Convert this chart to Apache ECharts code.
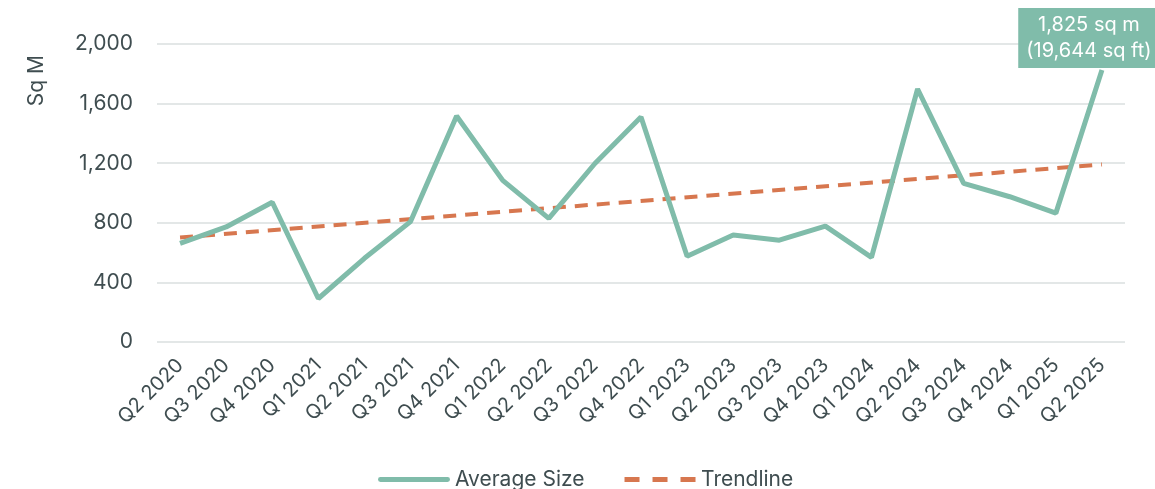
<!DOCTYPE html>
<html>
<head>
<meta charset="utf-8">
<script src="https://cdn.jsdelivr.net/npm/echarts@6/dist/echarts.min.js"></script>
<style>
  html, body { margin: 0; padding: 0; background: #fff; }
  #chart { width: 1155px; height: 489px; }
</style>
</head>
<body>
<div id="chart"></div>
<script>
// 季度类目
const quarters = [
  "Q2 2020", "Q3 2020", "Q4 2020", "Q1 2021", "Q2 2021", "Q3 2021", "Q4 2021",
  "Q1 2022", "Q2 2022", "Q3 2022", "Q4 2022", "Q1 2023", "Q2 2023", "Q3 2023",
  "Q4 2023", "Q1 2024", "Q2 2024", "Q3 2024", "Q4 2024", "Q1 2025", "Q2 2025",
];
// 平均面积（sq m）
const avgSize = [
  662, 772, 938, 292, 562, 808, 1517,
  1085, 830, 1198, 1510, 575, 718, 683,
  778, 568, 1698, 1065, 975, 865, 1825,
];
// 趋势线首尾值
const trendStart = 702;
const trendEnd = 1192;
const yTicks = [0, 400, 800, 1200, 1600, 2000];
const lastLabel = "1,825 sq m\n(19,644 sq ft)";

const TEAL = "#80bcaa";
const ORANGE = "#d7774f";
const TEXT = "#3f4d50";
const GRID = "#e3e7e7";
const FONT = "Inter, 'Open Sans', sans-serif";

// 图例图标：实线 / 三段虚线
const ICON_SOLID = "path://M2,0h68a2,2 0 0 1 0,5h-68a2,2 0 0 1 0,-5z";
const ICON_DASH = "path://M0,0h15v5h-15z M28,0h15v5h-15z M56,0h15v5h-15z";

const trend = quarters.map((_, i) =>
  i === 0 ? trendStart : i === quarters.length - 1 ? trendEnd : null
);
const avgData = avgSize.map((v, i) =>
  i === avgSize.length - 1
    ? {
        value: v,
        label: {
          show: true,
          formatter: lastLabel,
          position: "top",
          distance: 2,
          offset: [-13, 0],
          color: "#fff",
          fontSize: 20,
          lineHeight: 26,
          fontFamily: FONT,
          backgroundColor: TEAL,
          padding: [4, 8, 4, 8],
        },
      }
    : v
);

const chart = echarts.init(document.getElementById("chart"), null, { renderer: "canvas" });
chart.setOption({
  animation: false,
  textStyle: { fontFamily: FONT, color: TEXT },
  grid: { left: 157, right: 30, top: 44, bottom: 147 },
  legend: {
    top: 464,
    left: 373,
    itemWidth: 72,
    itemHeight: 5,
    itemGap: 40,
    textStyle: { fontSize: 21, color: TEXT, fontFamily: FONT },
    data: [
      { name: "Average Size", icon: ICON_SOLID },
      { name: "Trendline", icon: ICON_DASH },
    ],
  },
  graphic: [
    {
      type: "text",
      left: 26,
      top: 55,
      rotation: Math.PI / 2,
      style: { text: "Sq M", fontSize: 21, fill: TEXT, fontFamily: FONT },
    },
  ],
  xAxis: {
    type: "category",
    data: quarters,
    boundaryGap: true,
    axisLine: { show: false },
    axisTick: { show: false },
    axisLabel: { rotate: 45, fontSize: 20, color: TEXT, margin: 20, interval: 0 },
  },
  yAxis: {
    type: "value",
    min: yTicks[0],
    max: yTicks[yTicks.length - 1],
    interval: 400,
    axisLabel: {
      fontSize: 21,
      color: TEXT,
      margin: 24,
      formatter: (v) => v.toLocaleString("en-US"),
    },
    splitLine: { lineStyle: { color: GRID, width: 2 } },
  },
  series: [
    {
      name: "Average Size",
      type: "line",
      data: avgData,
      showSymbol: true,
      symbol: "circle",
      symbolSize: 0,
      lineStyle: { color: TEAL, width: 5 },
      itemStyle: { color: TEAL },
      z: 3,
    },
    {
      name: "Trendline",
      type: "line",
      data: trend,
      connectNulls: true,
      symbol: "none",
      lineStyle: { color: ORANGE, width: 4, type: [13, 9] },
      itemStyle: { color: ORANGE },
      z: 2,
    },
  ],
});
</script>
</body>
</html>
